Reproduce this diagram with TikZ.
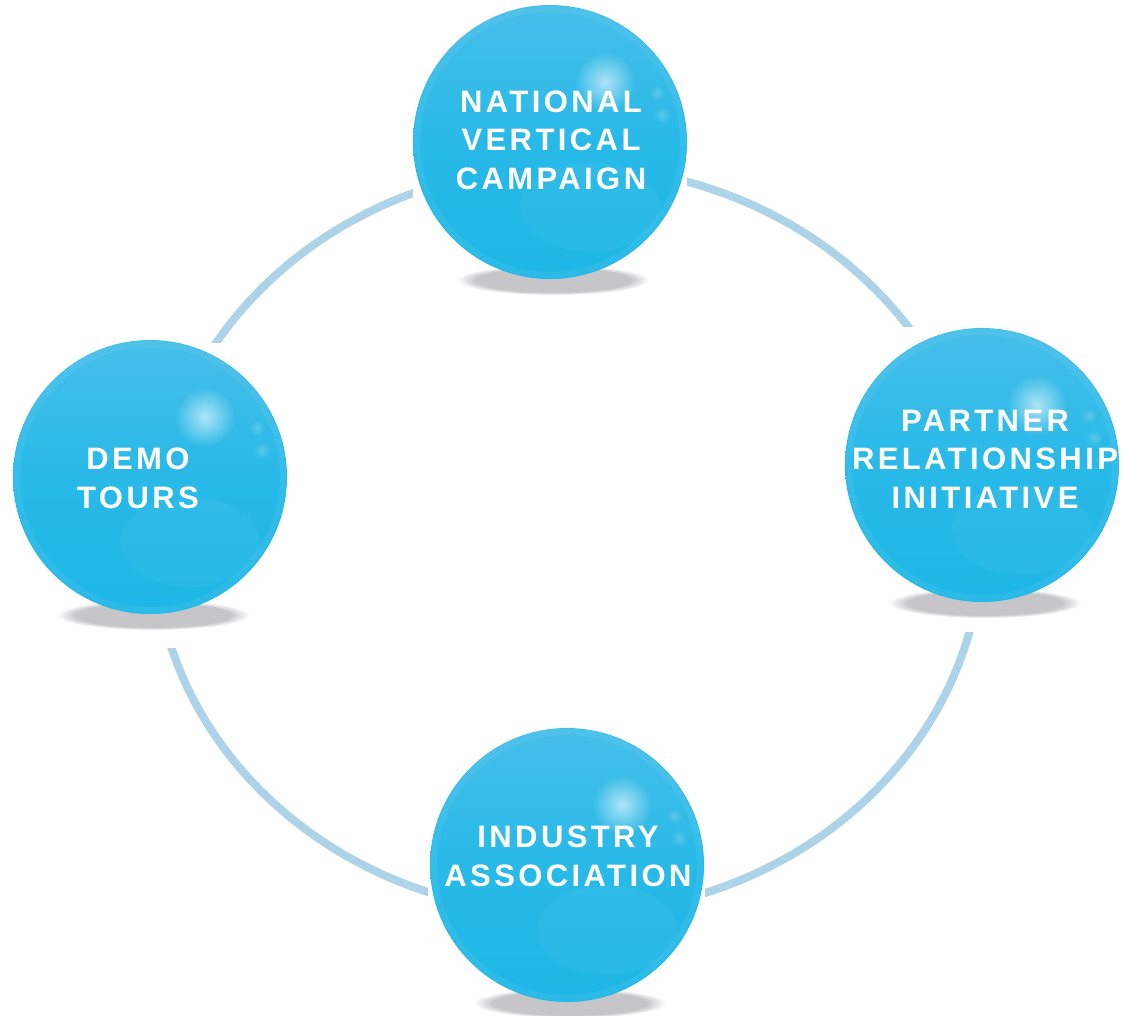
\documentclass[tikz,border=0pt]{standalone}
\usepackage{fontspec}
\newfontfamily\lblfont{Liberation Sans}[LetterSpace=11]
\usetikzlibrary{fadings}

\definecolor{ringblue}{RGB}{173,211,232}
\definecolor{ballbase}{RGB}{30,183,231}
\definecolor{balltop}{RGB}{70,191,233}
\definecolor{shadowgray}{RGB}{198,198,201}

\tikzfading[name=softglow, inner color=transparent!0, outer color=transparent!100]

\tikzset{
  ring/.style={draw=ringblue, line width=8pt},
  mask/.style={fill=white, draw=none},
  label/.style={text=white, align=center, inner sep=0pt,
    font={\lblfont\bfseries\fontsize{31}{38.5}\selectfont}},
}

% glossy sphere with its floor shadow; #1 = x, #2 = y (centre)
\newcommand\drawsphere[2]{%
  \begin{scope}[shift={(#1,#2)}]
    \fill[shadowgray, path fading=circle with fuzzy edge 20 percent] (3,138) ellipse (96 and 15);
    \begin{scope}
      \clip (0,0) circle (137);
      \shade[top color=balltop, bottom color=ballbase, middle color=ballbase!75!balltop]
        (-140,-140) rectangle (140,140);
      \fill[white, opacity=0.04] (40,65) ellipse (70 and 45);
      \draw[white, opacity=0.06, line width=6pt] (0,0) circle (133);
      \fill[white, path fading=softglow, opacity=0.6] (55,-60) circle (30);
      \fill[white, path fading=softglow, opacity=0.2] (107,-49) circle (8);
      \fill[white, path fading=softglow, opacity=0.2] (112,-27) circle (9);
    \end{scope}
  \end{scope}}

\begin{document}
\begin{tikzpicture}[x=1pt, y=-1pt]
  \useasboundingbox (0,0) rectangle (1123,1015);

  % connecting ring
  \draw[ring] (568,540) ellipse (414 and 374);

  % white frames around each sphere break the ring
  \fill[mask] (413,0) rectangle (687,300);
  \fill[mask] (0,343) rectangle (300,648);
  \fill[mask] (830,327) rectangle (1123,632);
  \fill[mask] (428,715) rectangle (705,1015);

  % spheres
  \drawsphere{550}{142}
  \drawsphere{150}{477}
  \drawsphere{982}{465}
  \drawsphere{567}{865}

  % labels
  \node[label] (national) at (551,140) {NATIONAL\\VERTICAL\\CAMPAIGN};
  \node[label] (demo) at (138,478.5) {DEMO\\TOURS};
  \node[label] (partner) at (985,459) {PARTNER\\RELATIONSHIP\\INITIATIVE};
  \node[label] (industry) at (568,856.5) {INDUSTRY\\ASSOCIATION};
\end{tikzpicture}
\end{document}
